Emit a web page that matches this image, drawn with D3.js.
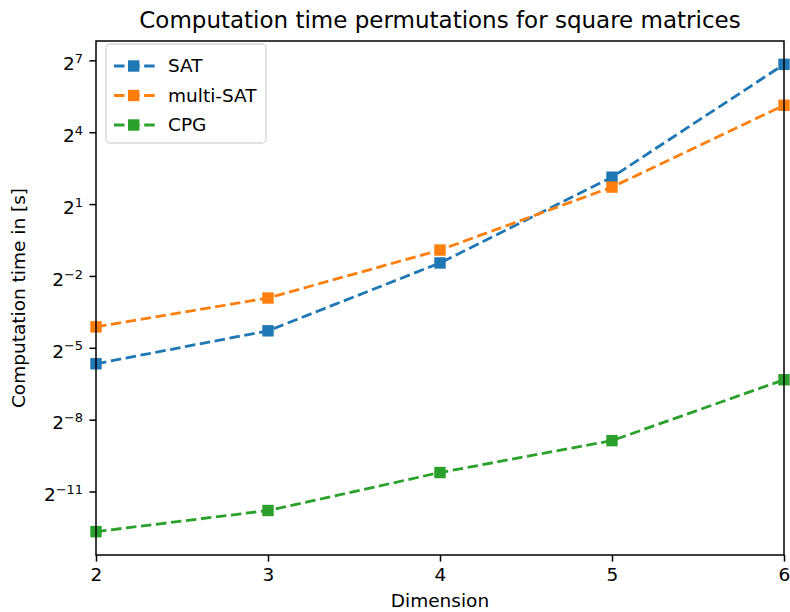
<!DOCTYPE html>
<html>
<head>
<meta charset="utf-8">
<script src="https://cdn.jsdelivr.net/npm/d3@7"></script>
<style>
  body { margin: 0; background: #fff; }
  svg { font-family: "DejaVu Sans", sans-serif; }
</style>
</head>
<body>
<svg width="790" height="612"></svg>
<script>
/* values, in seconds */
const dimensions = [2, 3, 4, 5, 6];
const satTimes = [0.0197, 0.0511, 0.364, 4.36, 114];
const multiSatTimes = [0.0573, 0.132, 0.529, 3.27, 34.9];
const cpgTimes = [0.000153, 0.000282, 0.000846, 0.00213, 0.0124];
const seriesNames = ['SAT', 'multi-SAT', 'CPG'];
const seriesColors = ['#1f77b4', '#ff7f0e', '#2ca02c'];
const yTickPowers = [-11, -8, -5, -2, 1, 4, 7];

const WIDTH = 790, HEIGHT = 612;
const margin = {top: 41, right: 6, bottom: 57, left: 96};
const LABEL_SIZE = 18.5, TITLE_SIZE = 23;

let svg = d3.select('svg');
let series = [satTimes, multiSatTimes, cpgTimes].map((vals, i) => ({
    name: seriesNames[i], color: seriesColors[i],
    points: vals.map((v, j) => ({x: dimensions[j], y: v}))
}));

/* matplotlib style 5% padding in log space */
let allVals = [].concat(satTimes, multiSatTimes, cpgTimes);
let lo = Math.log2(d3.min(allVals)), hi = Math.log2(d3.max(allVals));
let pad = (hi - lo) * 0.05;

let x = d3.scaleLinear()
    .domain(d3.extent(dimensions))
    .range([margin.left, WIDTH - margin.right]);
let y = d3.scaleLog().base(2)
    .domain([Math.pow(2, lo - pad), Math.pow(2, hi + pad)])
    .range([HEIGHT - margin.bottom, margin.top]);

/* lines */
let line = d3.line().x(d => x(d.x)).y(d => y(d.y));
let plot = svg.append('g');
series.forEach(s => {
    plot.append('path')
        .attr('d', line(s.points))
        .attr('fill', 'none')
        .attr('stroke', s.color)
        .attr('stroke-width', 2.8)
        .attr('stroke-dasharray', '10.5,4.6');
    plot.selectAll(null).data(s.points).enter().append('rect')
        .attr('x', d => x(d.x) - 5.7)
        .attr('y', d => y(d.y) - 5.7)
        .attr('width', 11.4)
        .attr('height', 11.4)
        .attr('fill', s.color);
});

/* frame */
svg.append('rect')
    .attr('x', margin.left).attr('y', margin.top)
    .attr('width', WIDTH - margin.left - margin.right)
    .attr('height', HEIGHT - margin.top - margin.bottom)
    .attr('fill', 'none').attr('stroke', '#000').attr('stroke-width', 1.5);

/* x axis */
let xAxis = svg.append('g')
    .attr('transform', `translate(0,${HEIGHT - margin.bottom})`)
    .call(d3.axisBottom(x).tickValues(dimensions).tickFormat(d3.format('d'))
        .tickSize(6.6).tickPadding(6));
xAxis.select('.domain').remove();
xAxis.selectAll('line').attr('stroke-width', 1.5);
xAxis.selectAll('text').attr('font-size', LABEL_SIZE).attr('fill', '#000')
    .attr('font-family', '"DejaVu Sans", sans-serif');

/* y axis with power labels */
let yAxis = svg.append('g')
    .attr('transform', `translate(${margin.left},0)`)
    .call(d3.axisLeft(y).tickValues(yTickPowers.map(p => Math.pow(2, p)))
        .tickFormat('').tickSize(6.6));
yAxis.select('.domain').remove();
yAxis.selectAll('line').attr('stroke-width', 1.5);
yAxis.selectAll('.tick').each(function(d) {
    let p = Math.round(Math.log2(d));
    let t = d3.select(this).append('text')
        .attr('x', -13).attr('dy', '0.5em')
        .attr('text-anchor', 'end')
        .attr('font-size', LABEL_SIZE)
        .attr('fill', '#000')
        .attr('font-family', '"DejaVu Sans", sans-serif');
    t.append('tspan').text('2');
    t.append('tspan').attr('dy', '-0.55em').attr('font-size', LABEL_SIZE * 0.7)
        .text(p < 0 ? '\u2212' + Math.abs(p) : p);
});

/* titles */
svg.append('text')
    .attr('x', (margin.left + WIDTH - margin.right) / 2).attr('y', 28)
    .attr('text-anchor', 'middle').attr('font-size', TITLE_SIZE)
    .text('Computation time permutations for square matrices');
svg.append('text')
    .attr('x', (margin.left + WIDTH - margin.right) / 2).attr('y', 607)
    .attr('text-anchor', 'middle').attr('font-size', LABEL_SIZE)
    .text('Dimension');
svg.append('text')
    .attr('transform', `translate(25,${(margin.top + HEIGHT - margin.bottom) / 2}) rotate(-90)`)
    .attr('text-anchor', 'middle').attr('font-size', LABEL_SIZE)
    .text('Computation time in [s]');

/* legend */
let legend = svg.append('g').attr('transform', 'translate(106,44)');
legend.append('rect')
    .attr('width', 160).attr('height', 99).attr('rx', 4)
    .attr('fill', '#fff').attr('fill-opacity', 0.8)
    .attr('stroke', '#d6d6d6').attr('stroke-width', 1.3);
series.forEach((s, i) => {
    let row = legend.append('g').attr('transform', `translate(0,${22 + i * 29.5})`);
    row.append('line')
        .attr('x1', 8).attr('x2', 51).attr('y1', 0).attr('y2', 0)
        .attr('stroke', s.color).attr('stroke-width', 2.8)
        .attr('stroke-dasharray', '10.5,4.6');
    row.append('rect')
        .attr('x', 22).attr('y', -5.7).attr('width', 11.4).attr('height', 11.4)
        .attr('fill', s.color);
    row.append('text')
        .attr('x', 62).attr('dy', '0.35em').attr('font-size', LABEL_SIZE)
        .text(s.name);
});
</script>
</body>
</html>
